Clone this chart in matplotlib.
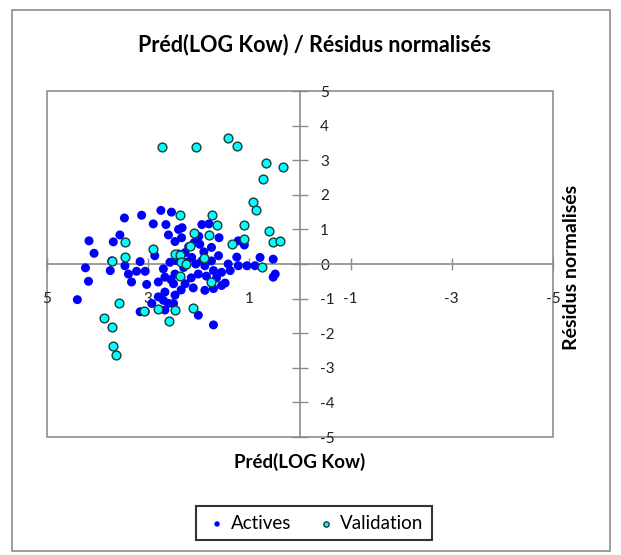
import matplotlib.pyplot as plt
from matplotlib.patches import Rectangle

# Actives (blue) - pred LOG Kow / normalised residuals
act_x = [2.75, 2.54, 3.47, 3.13, 2.90, 2.65, 2.33, 2.40, 1.94, 1.80,
         2.60, 2.34, 2.47, 3.56, 3.69, 4.17, 4.07, 2.87, 2.09, 1.98,
         1.75, 1.60, 1.22, 4.24, 3.75, 3.72, 3.46, 3.39, 3.33, 3.23,
         3.06, 3.03, 2.80, 2.70, 2.67, 2.57, 2.47, 2.50, 2.40, 2.27,
         2.24, 2.14, 2.06, 2.01, 1.94, 1.88, 1.75, 1.71, 1.61, 1.55,
         1.42, 1.38, 1.22, 1.05, 0.89, 0.79, 0.53, 0.49, 0.53, 1.55,
         1.48, 1.71, 1.88, 2.11, 2.27, 2.67, 2.70, 2.60, 2.50, 2.80,
         2.93, 3.16, 3.06, 2.47, 4.18, 4.40, 2.01, 1.71, 2.67, 3.16,
         2.20, 2.00, 1.90, 2.30, 2.15, 1.85, 2.45, 2.55, 2.35, 1.65,
         1.25, 1.10]
act_y = [1.55, 1.50, 1.33, 1.41, 1.16, 1.14, 1.05, 1.00, 1.14, 1.16,
         0.84, 0.76, 0.65, 0.84, 0.64, 0.67, 0.31, 0.24, 0.62, 0.57,
         0.48, 0.76, 0.67, -0.11, -0.19, 0.09, -0.05, -0.29, -0.52, -0.21,
         -0.21, -0.59, -0.52, -0.14, -0.38, 0.05, -0.29, -0.57, 0.29, 0.33,
         0.05, 0.19, 0.00, -0.29, 0.09, -0.05, 0.09, -0.19, 0.24, -0.24,
         0.00, -0.19, -0.05, -0.05, -0.05, 0.19, 0.14, -0.29, -0.38, -0.62,
         -0.55, -0.71, -0.76, -0.69, -0.57, -0.81, -1.05, -1.14, -1.14, -0.95,
         -1.14, -1.38, -1.38, -0.90, -0.50, -1.03, -1.48, -1.76, -1.33, 0.07,
         0.50, 0.80, 0.35, -0.10, -0.40, -0.35, 0.10, -0.45, -0.75, -0.40,
         0.20, 0.55]

# Validation (cyan)
val_x = [2.73, 2.06, 1.42, 1.25, 0.67, 0.34, 0.73, 0.93, 0.87, 2.37,
         1.74, 1.64, 2.09, 1.80, 1.11, 0.61, 1.11, 1.34, 0.53, 0.40,
         3.46, 2.91, 3.46, 2.47, 2.37, 2.17, 3.72, 1.90, 2.35, 2.25,
         0.75, 2.37, 1.76, 3.58, 3.08, 2.81, 2.47, 2.11, 2.59, 3.87,
         3.72, 3.70, 3.64]
val_y = [3.37, 3.37, 3.63, 3.40, 2.91, 2.80, 2.46, 1.80, 1.57, 1.43,
         1.43, 1.14, 0.91, 0.83, 1.14, 0.94, 0.71, 0.57, 0.63, 0.66,
         0.63, 0.43, 0.20, 0.29, 0.26, 0.51, 0.09, 0.17, 0.06, 0.00,
         -0.09, -0.34, -0.51, -1.14, -1.37, -1.29, -1.34, -1.26, -1.66, -1.57,
         -1.83, -2.37, -2.63]

x_ticks = [5, 3, 1, -1, -3, -5]
y_ticks = [-5, -4, -3, -2, -1, 0, 1, 2, 3, 4, 5]

plt.rcParams['font.family'] = ['Lato', 'DejaVu Sans']
grey = '#8c8c8c'

fig = plt.figure(figsize=(6.21, 5.55), dpi=100)
ax = fig.add_axes([0.0757, 0.2126, 0.8148, 0.6234])

ax.scatter(act_x, act_y, s=42, color='#0000ff', edgecolors='none',
           label='Actives', zorder=3)
ax.scatter(val_x, val_y, s=40, color='#00ffff', edgecolors='#1a3a3a',
           linewidths=1.0, label='Validation', zorder=4)

ax.set_xlim(5, -5)
ax.set_ylim(-5, 5)
ax.set_xticks(x_ticks)
ax.set_yticks(y_ticks)
ax.set_xticklabels([str(v) for v in x_ticks], fontfamily='Liberation Sans')
ax.set_yticklabels([str(v) for v in y_ticks], fontfamily='Liberation Sans')

# axes cross at zero, y labels on the right of the vertical axis
ax.spines['bottom'].set_position(('data', 0))
ax.spines['right'].set_position(('data', 0))
ax.spines['top'].set_visible(False)
ax.spines['left'].set_visible(False)
for s in ('bottom', 'right'):
    ax.spines[s].set_color(grey)
    ax.spines[s].set_linewidth(1.2)
ax.yaxis.tick_right()
ax.tick_params(axis='x', direction='inout', length=9, width=1, color=grey,
               pad=16, labelsize=11, labelcolor='#222222')
ax.tick_params(axis='y', direction='inout', length=11, width=1, color=grey,
               pad=9, labelsize=11, labelcolor='#222222')

ax.add_patch(Rectangle((0, 0), 1, 1, transform=ax.transAxes, fill=False,
                       edgecolor=grey, linewidth=1.2, clip_on=False, zorder=1))

fig.text(0.507, 0.919, 'Préd(LOG Kow) / Résidus normalisés', ha='center',
         va='center', fontsize=15.5, fontweight='bold')
fig.text(0.483, 0.168, 'Préd(LOG Kow)', ha='center', va='center',
         fontsize=13.5, fontweight='bold')
fig.text(0.921, 0.519, 'Résidus normalisés', ha='center', va='center',
         rotation=90, fontsize=14, fontweight='bold')

leg = fig.legend(loc='center', bbox_to_anchor=(0.506, 0.057), ncol=2,
                 frameon=True, fancybox=False, fontsize=13.5, markerscale=0.6,
                 handletextpad=0.1, columnspacing=1.2, borderpad=0.45,
                 handlelength=1.3)
leg.get_frame().set_edgecolor('black')
leg.get_frame().set_linewidth(1.5)

fig.patches.append(Rectangle((0.019, 0.007), 0.963, 0.975,
                             transform=fig.transFigure, fill=False,
                             edgecolor=grey, linewidth=1.2))

fig.savefig('out.png', dpi=100)
